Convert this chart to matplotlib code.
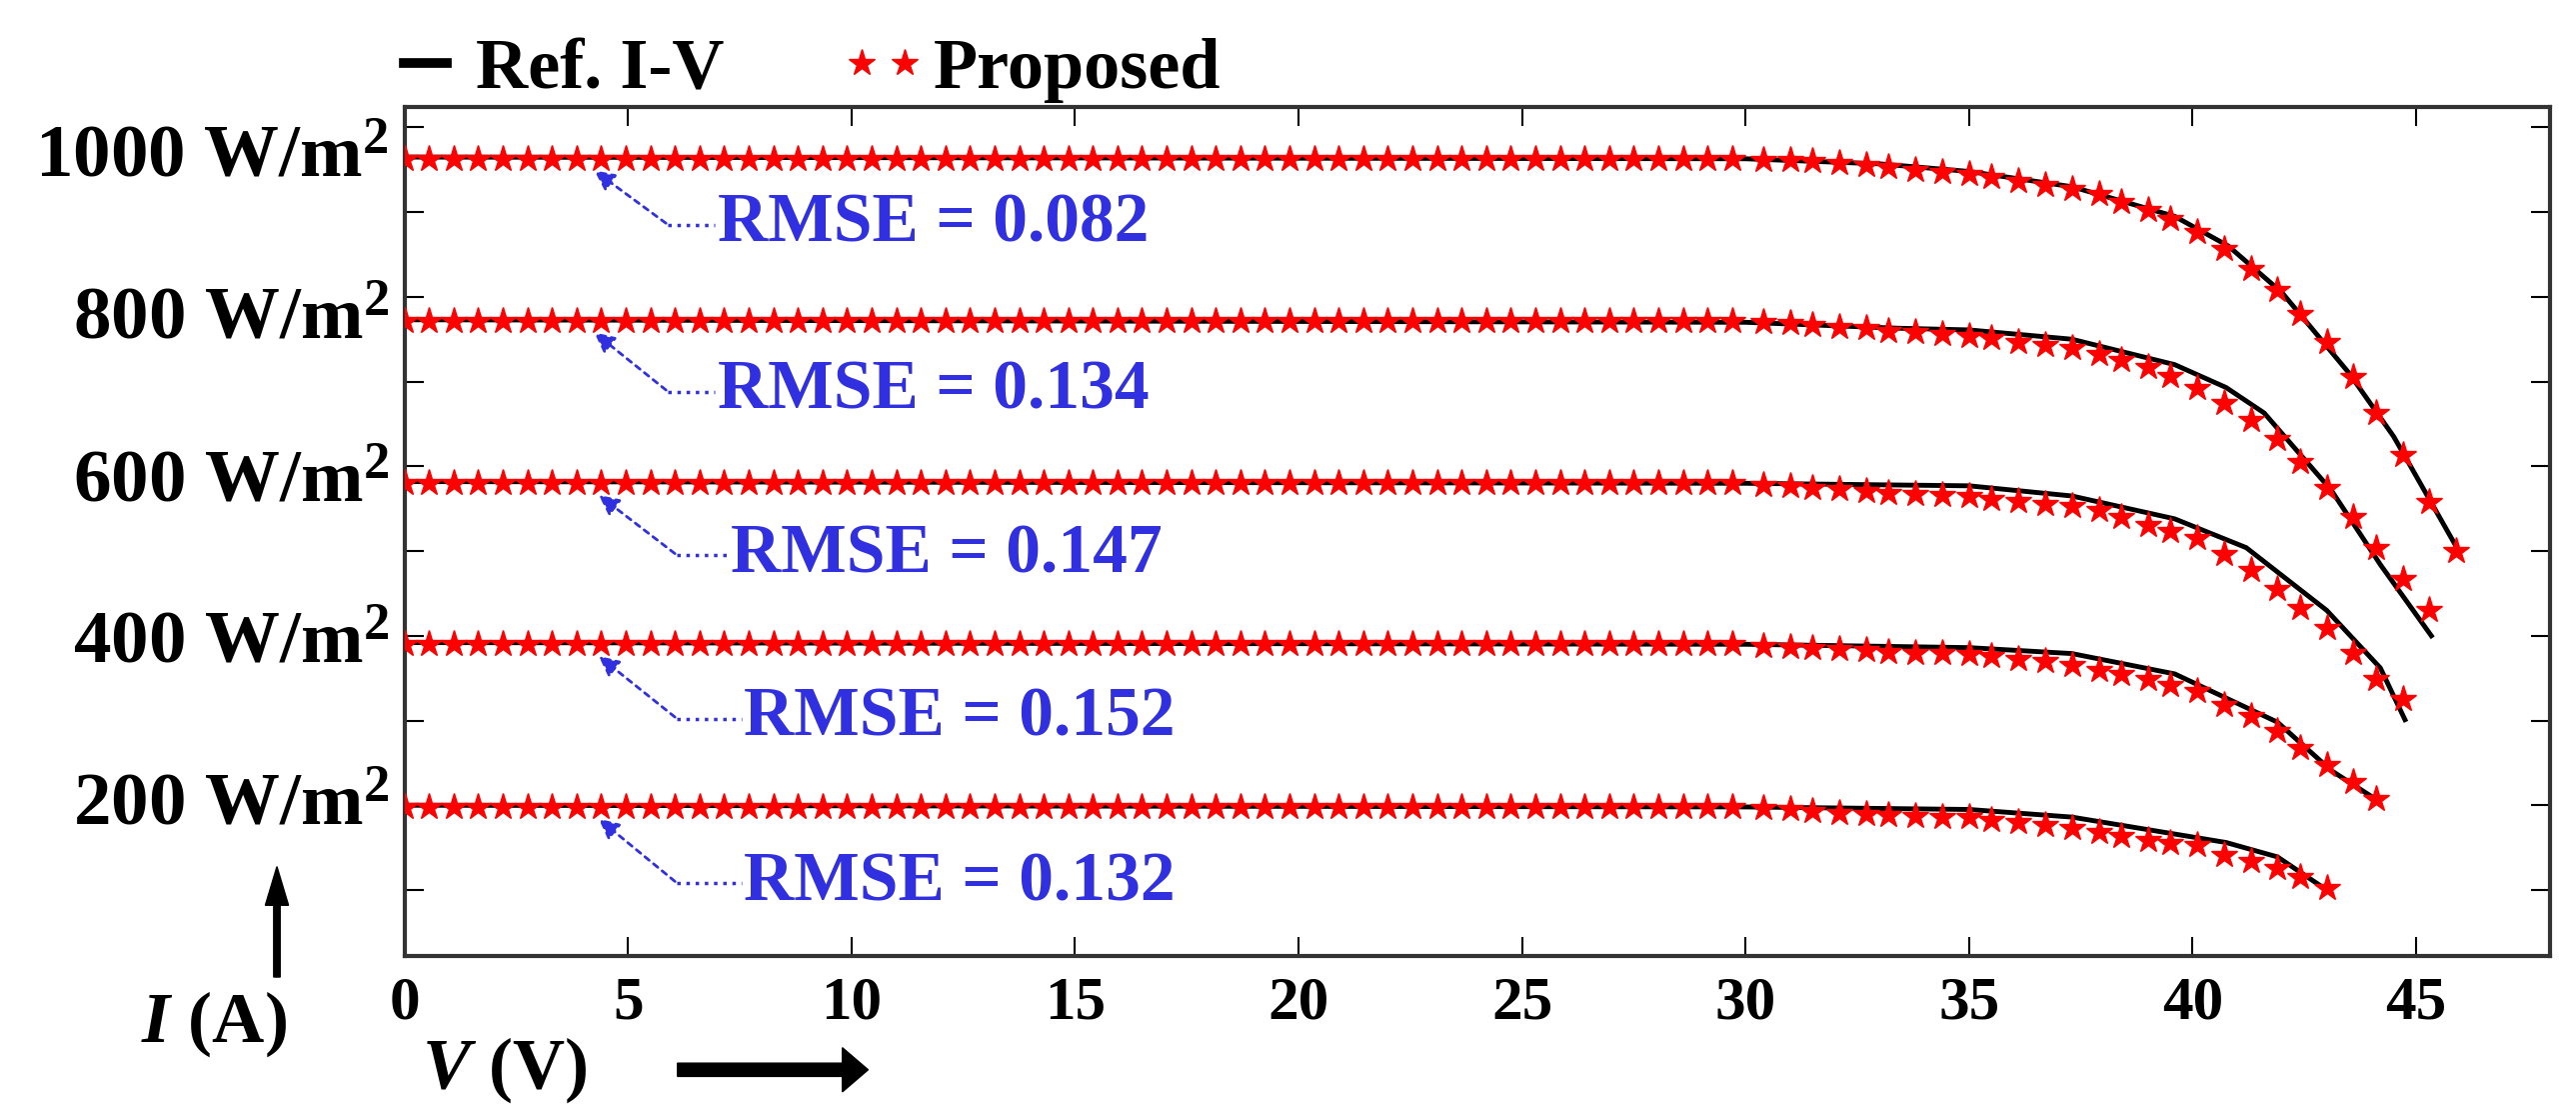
import numpy as np
import matplotlib
matplotlib.use("Agg")
import matplotlib.pyplot as plt
from matplotlib.transforms import blended_transform_factory

plt.rcParams["font.family"] = ["Liberation Serif", "DejaVu Serif"]
plt.rcParams["font.weight"] = "bold"
plt.rcParams["mathtext.fontset"] = "custom"
plt.rcParams["mathtext.rm"] = "Liberation Serif:bold"
plt.rcParams["mathtext.it"] = "Liberation Serif:italic:bold"

# ==========================================================
# DATA  (current axis is in stacked display units)
# ==========================================================

irradiance_labels = ["1000 W/m$^2$", "800 W/m$^2$", "600 W/m$^2$", "400 W/m$^2$", "200 W/m$^2$"]
flat_levels = [8.63, 6.72, 4.80, 2.90, 0.98]
rmse_values = ["0.082", "0.134", "0.147", "0.152", "0.132"]
rmse_text_y = [7.85, 5.88, 3.95, 2.02, 0.08]
rmse_text_x = [7.0, 7.0, 7.3, 7.6, 7.6]

# reference I-V curves: key points
ref_v = [
    [0, 30, 33, 35, 37.3, 39.6, 40.8, 42.0, 43.5, 44.5, 45.9],
    [0, 30, 33.4, 35, 37.3, 39.6, 40.75, 41.6, 43.1, 44.2, 45.34],
    [0, 30, 35, 37.3, 39.6, 41.2, 43.0, 44.2, 44.75],
    [0, 30, 35, 37.3, 39.6, 41.9, 43.1, 44.1],
    [0, 30, 35, 37.3, 39.6, 40.75, 41.9, 43.0],
]
ref_i = [
    [8.65, 8.63, 8.57, 8.48, 8.30, 7.95, 7.60, 7.05, 6.10, 5.35, 4.05],
    [6.73, 6.70, 6.63, 6.61, 6.50, 6.20, 5.93, 5.63, 4.72, 3.84, 3.00],
    [4.82, 4.80, 4.77, 4.65, 4.38, 4.04, 3.30, 2.62, 2.01],
    [2.92, 2.90, 2.86, 2.79, 2.55, 1.98, 1.41, 1.07],
    [1.00, 0.98, 0.95, 0.86, 0.66, 0.56, 0.39, 0.00],
]

# proposed model: flat part sampled every ~0.55 V, knee part read point by point
v_flat = np.arange(0, 30.1, 0.55)
v_knee = [30.4, 31.0, 31.5, 32.1, 32.7, 33.2, 33.8, 34.4, 35.0, 35.5, 36.1,
          36.7, 37.3, 37.9, 38.4, 39.0, 39.5, 40.1, 40.7, 41.3, 41.9, 42.4,
          43.0, 43.6, 44.1, 44.7, 45.3, 45.9]
prop_knee = [
    [8.62, 8.61, 8.60, 8.58, 8.56, 8.53, 8.50, 8.47, 8.45, 8.42, 8.37, 8.32, 8.27, 8.22,
     8.12, 8.03, 7.92, 7.76, 7.57, 7.33, 7.08, 6.80, 6.47, 6.06, 5.63, 5.13, 4.58, 4.00],
    [6.70, 6.69, 6.67, 6.65, 6.63, 6.60, 6.58, 6.56, 6.54, 6.51, 6.47, 6.43, 6.40, 6.33,
     6.26, 6.17, 6.07, 5.93, 5.75, 5.55, 5.32, 5.05, 4.75, 4.40, 4.04, 3.67, 3.30],
    [4.78, 4.77, 4.75, 4.73, 4.71, 4.68, 4.67, 4.66, 4.65, 4.62, 4.59, 4.56, 4.53, 4.48,
     4.40, 4.31, 4.24, 4.16, 3.96, 3.78, 3.55, 3.33, 3.09, 2.80, 2.49, 2.25],
    [2.88, 2.87, 2.86, 2.85, 2.83, 2.81, 2.80, 2.80, 2.79, 2.76, 2.73, 2.70, 2.66, 2.60,
     2.55, 2.49, 2.42, 2.35, 2.18, 2.05, 1.88, 1.68, 1.47, 1.27, 1.07],
    [0.97, 0.95, 0.93, 0.91, 0.90, 0.88, 0.87, 0.86, 0.86, 0.83, 0.80, 0.77, 0.73, 0.68,
     0.64, 0.59, 0.56, 0.53, 0.41, 0.34, 0.26, 0.15, 0.02],
]

x_ticks = [0, 5, 10, 15, 20, 25, 30, 35, 40, 45]

# ==========================================================
# PLOT
# ==========================================================

fig = plt.figure(figsize=(25.77, 11.04), dpi=100)
ax = fig.add_axes([0.157, 0.134, 0.833, 0.769])

blue = "#3030e0"

for k in range(5):
    ax.plot(ref_v[k], ref_i[k], color="black", lw=3.5,
            label="Ref. I-V" if k == 0 else None, zorder=3)
    n = len(prop_knee[k])
    pv = np.concatenate([v_flat, v_knee[:n]])
    pi = np.concatenate([np.full(len(v_flat), flat_levels[k]), prop_knee[k]])
    ax.plot(pv, pi, ls="none", marker="*", ms=20, color="red", mec="red",
            mew=1, label="Proposed" if k == 0 else None, zorder=4)

    # RMSE annotation with dotted elbow arrow
    ty = rmse_text_y[k]
    tx = rmse_text_x[k]
    ax.text(tx, ty, f"RMSE = {rmse_values[k]}", color=blue, fontsize=50,
            fontweight="bold", va="center", ha="left")
    elbow_x = 5.9 if k < 2 else 6.1
    ax.plot([elbow_x, tx - 0.05], [ty, ty], color=blue, ls=":", lw=2.5)
    ax.annotate("", xy=(4.2 + 0.1 * (k > 1), flat_levels[k] - 0.12),
                xytext=(elbow_x, ty),
                arrowprops=dict(arrowstyle="-|>", color=blue, ls=(0, (2, 2)),
                                lw=2, mutation_scale=30))

    # irradiance label on the left
    trans = blended_transform_factory(fig.transFigure, ax.transData)
    ax.text(0.151, flat_levels[k], irradiance_labels[k], transform=trans,
            ha="right", va="center", fontsize=54, fontweight="bold")

ax.set_xlim(0, 48)
ax.set_ylim(-0.78, 9.24)
ax.set_xticks(x_ticks)
ax.set_xticklabels([str(t) for t in x_ticks], fontsize=44, fontweight="bold")
ax.set_yticks(range(10))
ax.set_yticklabels([])
ax.tick_params(direction="in", length=14, width=1.5, top=True, right=True, pad=14)
for s in ax.spines.values():
    s.set_linewidth(3)
    s.set_color("#333333")

leg = ax.legend(loc="lower left", bbox_to_anchor=(-0.012, 1.0), ncol=2,
                frameon=False, fontsize=52, handlelength=1.2, numpoints=2,
                handletextpad=0.1, columnspacing=1.6, borderaxespad=0.05,
                borderpad=0.0)
for t in leg.get_texts():
    t.set_fontweight("bold")
leg.get_lines()[0].set_linewidth(7)

# axis names with arrows
fig.text(0.083, 0.072, "$\\mathit{I}$ (A)", fontsize=52, ha="center", va="center")
fig.text(0.196, 0.031, "$\\mathit{V}$ (V)", fontsize=52, ha="center", va="center")
fig.patches.append(matplotlib.patches.FancyArrow(
    0.1075, 0.115, 0, 0.1, width=0.0025, head_width=0.009, head_length=0.035,
    length_includes_head=True, color="black", transform=fig.transFigure, figure=fig))
fig.patches.append(matplotlib.patches.FancyArrow(
    0.263, 0.031, 0.074, 0, width=0.012, head_width=0.04, head_length=0.01,
    length_includes_head=True, color="black", transform=fig.transFigure, figure=fig))

fig.savefig("out.png", dpi=100)
